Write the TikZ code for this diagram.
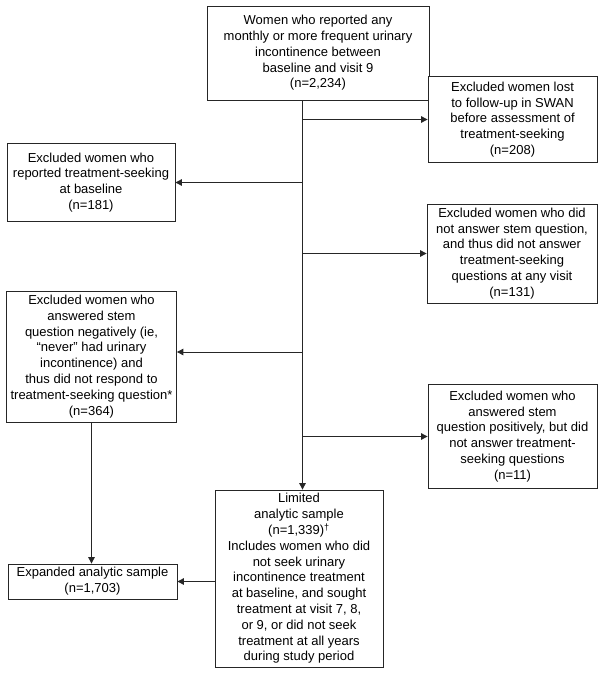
\documentclass[tikz,border=0pt]{standalone}
\usepackage{fontspec}
\setmainfont{Liberation Sans}
\usetikzlibrary{arrows.meta}

\begin{document}
\begin{tikzpicture}[
  x=1pt, y=-1pt,
  font=\fontsize{13}{15.8}\selectfont,
  block/.style = {
    draw=black!85,
    line width=0.8pt,
    shape=rectangle,
    inner sep=0pt,
    fill=white,
    align=center
  },
  flow/.style = {
    draw=black!85,
    line width=0.9pt,
    -{Triangle[length=6.5pt,width=6.5pt]}
  },
]
  \useasboundingbox[fill=white] (0,0) rectangle (605,680);

  \node (start)[
    block,
    minimum width=222pt,
    minimum height=94pt
  ] at (318,53) {Women who reported any\\monthly or more frequent urinary\\incontinence between\\baseline and visit 9\\(n=2,234)};
  \node (lost)[
    block,
    minimum width=169pt,
    minimum height=86pt
  ] at (512.5,119.5) {Excluded women lost\\to follow-up in SWAN\\before assessment of\\treatment-seeking\\(n=208)};
  \node (baseline)[
    block,
    minimum width=168pt,
    minimum height=78pt
  ] at (91,182.5) {Excluded women who\\reported treatment-seeking\\at baseline\\(n=181)};
  \node (nostem)[
    block,
    minimum width=170pt,
    minimum height=99pt
  ] at (512,253.5) {Excluded women who did\\not answer stem question,\\and thus did not answer\\treatment-seeking\\questions at any visit\\(n=131)};
  \node (negative)[
    block,
    minimum width=170pt,
    minimum height=131pt
  ] at (91.5,356.5) {Excluded women who\\answered stem\\question negatively (ie,\\“never” had urinary\\incontinence) and\\thus did not respond to\\treatment-seeking question*\\(n=364)};
  \node (positive)[
    block,
    minimum width=169pt,
    minimum height=104pt
  ] at (512.5,436.5) {Excluded women who\\answered stem\\question positively, but did\\not answer treatment-\\seeking questions\\(n=11)};
  \node (limited)[
    block,
    minimum width=168pt,
    minimum height=177pt
  ] at (299,578.5) {Limited\\analytic sample\\(n=1,339)\textsuperscript{†}\\Includes women who did\\not seek urinary\\incontinence treatment\\at baseline, and sought\\treatment at visit 7, 8,\\or 9, or did not seek\\treatment at all years\\during study period};
  \node (expanded)[
    block,
    minimum width=169pt,
    minimum height=35pt
  ] at (92.5,581.5) {Expanded analytic sample\\(n=1,703)};

  \coordinate (trunk) at (302.5,100);

  \draw[flow] (start.south -| trunk) -- (limited.north -| trunk);
  \draw[flow] (lost.west -| trunk) -- (lost.west);
  \draw[flow] (baseline.east -| trunk) -- (baseline.east);
  \draw[flow] (nostem.west -| trunk) -- (nostem.west);
  \draw[flow] ([yshift=4.5pt]negative.east -| trunk) -- ([yshift=4.5pt]negative.east);
  \draw[flow] (positive.west -| trunk) -- (positive.west);
  \draw[flow] (negative.south) -- (negative.south |- expanded.north);
  \draw[flow] (expanded.east -| limited.west) -- (expanded.east);
\end{tikzpicture}
\end{document}
